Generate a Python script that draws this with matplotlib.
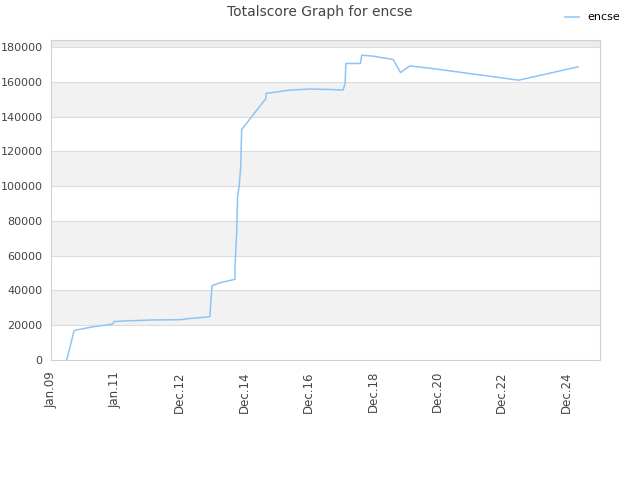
import numpy as np
import pandas as pd
import matplotlib
matplotlib.use("Agg")
import matplotlib.pyplot as plt
import matplotlib.dates as mdates

# score history
dates = ["2009-06-28", "2009-09-19", "2009-10-11", "2010-04-22", "2010-10-09",
         "2010-12-01", "2010-12-16", "2011-03-24", "2012-02-15", "2013-01-20",
         "2013-03-18", "2013-10-31", "2013-12-08", "2013-12-14", "2013-12-25",
         "2013-12-31", "2014-04-01", "2014-09-18", "2014-09-19", "2014-10-07",
         "2014-10-18", "2014-11-05", "2014-11-21", "2014-12-03", "2015-09-04",
         "2015-09-05", "2015-11-08", "2016-06-01", "2017-01-14", "2017-10-05",
         "2018-01-26", "2018-02-18", "2018-02-26", "2018-08-11", "2018-08-26",
         "2019-01-01", "2019-08-16", "2019-11-08", "2020-02-21", "2020-10-05",
         "2023-07-11", "2025-05-14"]
scores = [0, 16700, 17200, 19100, 20300,
          20700, 22100, 22400, 23000, 23200,
          23700, 24700, 25000, 30000, 38000,
          42700, 44400, 46400, 53600, 73000,
          94000, 100500, 110000, 132500, 150400,
          153300, 153700, 155200, 155800, 155500,
          155200, 159000, 170500, 170500, 175300,
          174700, 172800, 165300, 169100, 167800,
          160900, 168600]

player = "encse"
tick_start = "2009-01-01"
n_ticks = 9

x = pd.to_datetime(dates)

fig = plt.figure(figsize=(6.4, 4.8), dpi=100)
ax = fig.add_axes([51 / 640, 120 / 480, 549 / 640, 320 / 480])

ymax = 184000
# alternating bands
for lo in range(0, ymax, 40000):
    ax.axhspan(lo + 20000, min(lo + 40000, ymax), color="#f2f2f2", zorder=0, lw=0)
ax.axhspan(180000, ymax, color="#ececec", zorder=0, lw=0)
for yv in range(20000, 180001, 20000):
    ax.axhline(yv, color="#dddddd", lw=0.8, zorder=1)

ax.plot(x, scores, color="#8ec4f5", lw=1.1, label=player, zorder=3)

ticks = pd.to_datetime(tick_start) + pd.to_timedelta(np.arange(n_ticks) * 730, unit="D")
ax.set_xticks(ticks)
ax.xaxis.set_major_formatter(mdates.DateFormatter("%b.%y"))
ax.set_xlim(pd.to_datetime("2009-01-01"), pd.to_datetime("2026-01-17"))
ax.set_ylim(0, ymax)
ax.set_yticks(range(0, 180001, 20000))

for lab in ax.get_xticklabels():
    lab.set_rotation(90)
ax.tick_params(axis="both", length=0, colors="#444444")
ax.tick_params(axis="x", pad=8, labelsize=8.5)
ax.tick_params(axis="y", pad=6, labelsize=8)

for sp in ax.spines.values():
    sp.set_color("#d0d0d0")
    sp.set_linewidth(0.8)

fig.text(0.5, 1 - 12 / 480, "Totalscore Graph for " + player, ha="center", va="center",
         fontsize=10, color="#444444")
fig.legend(loc="upper right", bbox_to_anchor=(0.985, 0.995), frameon=False,
           fontsize=8, handlelength=1.2, handletextpad=0.8)

fig.savefig("out.png", dpi=100)
